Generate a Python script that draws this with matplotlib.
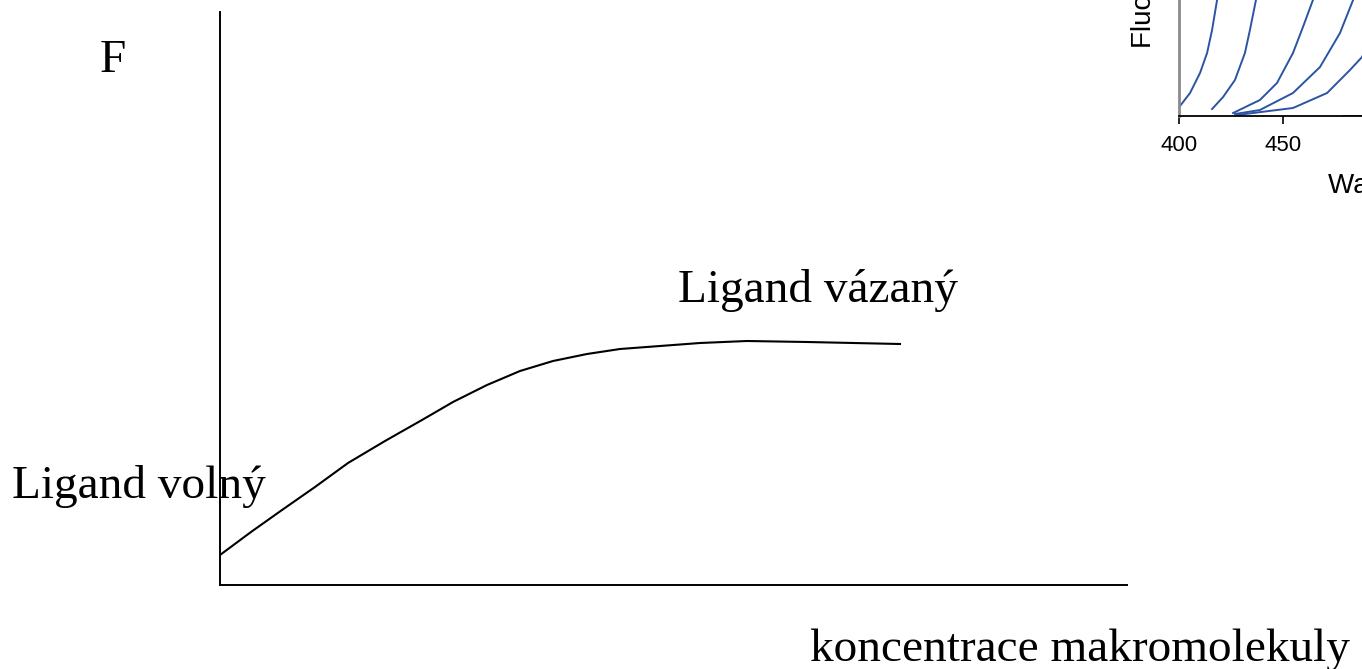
import matplotlib
matplotlib.use("Agg")
import matplotlib.pyplot as plt

W, H = 1362, 669

# binding curve: fluorescence F vs. macromolecule concentration (arbitrary units)
conc = [0, 3.1, 6.2, 9.5, 12.8, 16.5, 20.2, 23.3, 26.7, 30.0, 33.3, 36.7, 40.0,
        44.0, 48.0, 52.7, 58.7, 68.0]
fluor = [3.0, 5.3, 7.5, 9.8, 12.2, 14.4, 16.5, 18.3, 20.0, 21.4, 22.4, 23.1, 23.6,
         23.9, 24.2, 24.4, 24.3, 24.1]

# emission spectra in the corner panel
spec_wl = [
    [400.5, 405.3, 410.1, 413.5, 415.9, 418.3, 419.5],
    [415.9, 421.2, 426.9, 431.7, 434.1, 437.0, 438.0],
    [426.0, 438.9, 447.1, 454.8, 459.6, 464.4, 465.5],
    [426.9, 438.9, 454.8, 467.8, 477.4, 483.7, 485.0],
    [427.9, 454.8, 471.2, 482.2, 488.0, 495.0],
    [478.8, 520.0],
]
spec_int = [
    [1.0, 2.3, 4.3, 6.3, 8.6, 11.6, 13.0],
    [0.7, 1.9, 3.6, 6.3, 8.6, 11.6, 13.0],
    [0.3, 1.6, 3.3, 6.3, 8.9, 11.6, 13.0],
    [0.2, 0.6, 2.3, 4.9, 8.3, 11.6, 13.0],
    [0.1, 0.8, 2.3, 4.6, 5.9, 9.0],
    [0.0, 0.0],
]
wl_ticks = [400, 450]


def fx(px):
    return px / W


def fy(py):
    return 1 - py / H


fig = plt.figure(figsize=(W / 100, H / 100), dpi=100)
serif = ["Liberation Serif", "DejaVu Serif"]
sans = ["Liberation Sans", "DejaVu Sans"]

# main axes
ax = fig.add_axes([fx(220), fy(585), (1127 - 220) / W, (585 - 12) / H])
ax.plot(conc, fluor, color="black", lw=1.5, solid_joinstyle="round")
ax.set_xlim(0, 90.7)
ax.set_ylim(0, 57.3)
for s in ["top", "right"]:
    ax.spines[s].set_visible(False)
for s in ["left", "bottom"]:
    ax.spines[s].set_linewidth(1.4)
ax.set_xticks([])
ax.set_yticks([])
ax.patch.set_alpha(0)

fig.text(fx(100), fy(72), "F", family=serif, fontsize=34, va="baseline")
fig.text(fx(678), fy(302), "Ligand vázaný", family=serif, fontsize=34, va="baseline")
fig.text(fx(12), fy(498), "Ligand volný", family=serif, fontsize=34, va="baseline")
fig.text(fx(810), fy(661), "koncentrace makromolekuly", family=serif, fontsize=34,
         va="baseline")

# corner spectrum panel (runs off the figure edge)
ins = fig.add_axes([fx(1179), fy(116), (1595 - 1179) / W, 400 / H])
for wl, it in zip(spec_wl, spec_int):
    ins.plot(wl, it, color="#2b54a3", lw=1.4, solid_joinstyle="round")
ins.set_xlim(400, 600)
ins.set_ylim(0, 40)
ins.spines["top"].set_visible(False)
ins.spines["right"].set_visible(False)
ins.spines["left"].set_color("#8a8a8a")
ins.spines["left"].set_linewidth(2)
ins.spines["bottom"].set_linewidth(1.3)
ins.set_yticks([])
ins.set_xticks(wl_ticks)
ins.tick_params(axis="x", length=6, width=1.2, labelsize=16, pad=8)
for lab in ins.get_xticklabels():
    lab.set_family(sans)
ins.patch.set_alpha(0)

fig.text(fx(1328), fy(193), "Wavelength (nm)", family=sans, fontsize=20, va="baseline")
fig.text(fx(1131), fy(48), "Fluorescence intensity", family=sans,
         fontsize=20, rotation=90, ha="left", va="bottom")

fig.savefig("out.png", dpi=100)
